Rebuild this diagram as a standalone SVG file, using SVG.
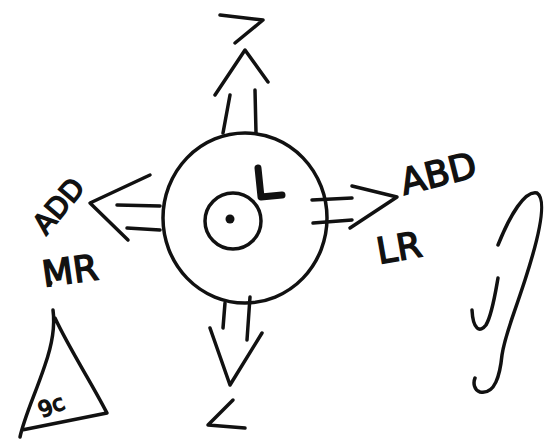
<svg xmlns="http://www.w3.org/2000/svg" width="550" height="446" viewBox="0 0 550 446">
<style>
.s{fill:none;stroke:#111;stroke-width:3.5;stroke-linecap:round;stroke-linejoin:round}
.t{font-family:"DejaVu Sans",sans-serif;fill:#111;stroke:#111;stroke-width:1.5}
</style>
<rect width="550" height="446" fill="#ffffff"/>
<g id="eye">
<ellipse class="s" cx="245" cy="218" rx="82" ry="85"/>
<circle class="s" cx="233" cy="221" r="28"/>
<circle cx="230" cy="219" r="4.5" fill="#111"/>
<path class="s" style="stroke-width:7" d="M258 168 L261 197 L282 195"/>
</g>
<g id="connectors">
<path class="s" d="M230 95 L223 133 M255 90 L256 133"/>
<path class="s" d="M215 95 L245 50 L268 82"/>
<path class="s" d="M225 303 L223 328 M250 297 L247 340"/>
<path class="s" d="M210 328 L230 385 L262 333"/>
<path class="s" d="M117 205 L160 206 M127 228 L160 230"/>
<path class="s" d="M150 175 L90 203 L128 240"/>
<path class="s" d="M312 200 L352 198 M313 223 L352 220"/>
<path class="s" d="M352 186 L397 197 L350 228"/>
</g>
<g id="symbols">
<path class="s" d="M220 15 L263 20 L235 43"/>
<path class="s" d="M233 400 L208 425 L245 428"/>
</g>
<g id="labels">
<text class="t" x="0" y="0" font-size="28" transform="translate(46 236) rotate(-50)">ADD</text>
<text class="t" x="0" y="0" font-size="36" transform="translate(44 287) rotate(-8)">MR</text>
<text class="t" x="0" y="0" font-size="36" transform="translate(404 195) rotate(-14)">ABD</text>
<text class="t" x="0" y="0" font-size="36" transform="translate(379 264) rotate(-10)">LR</text>
</g>
<g id="squiggle">
<path class="s" d="M498 245 C510 215 525 190 537 193 C548 200 538 240 525 280 C512 320 505 335 502 355 C500 375 495 395 480 392 C474 390 473 383 475 378"/>
<path class="s" d="M498 278 C495 295 492 315 486 325 C480 333 473 330 472 310"/>
</g>
<g id="cone">
<circle cx="50" cy="283" r="2.5" fill="#111"/>
<path class="s" d="M53 310 C55 325 52 345 45 365 C35 395 25 415 20 437 M22 430 L107 413 C90 380 70 350 55 318"/>
<text class="t" x="0" y="0" font-size="22" transform="translate(42 418) rotate(-22)">9c</text>
</g>
</svg>
